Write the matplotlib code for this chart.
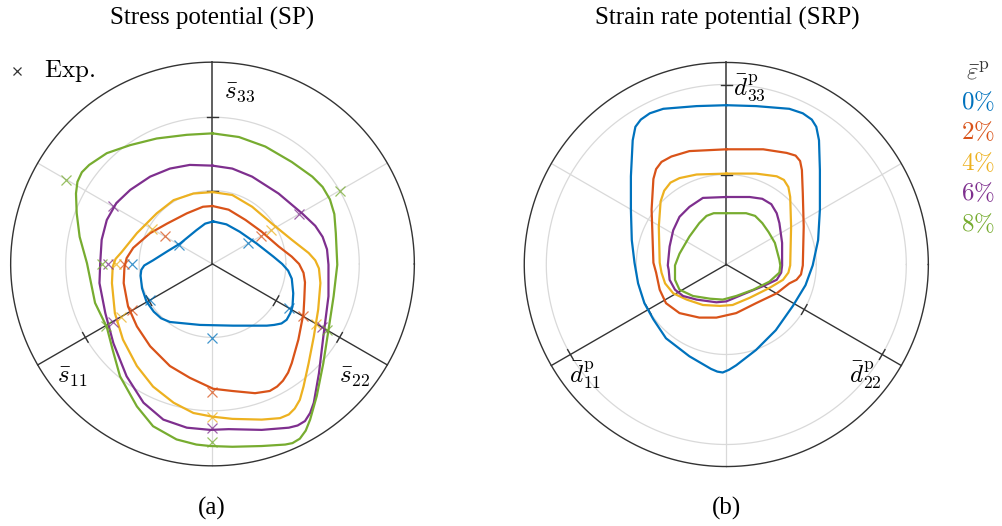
import numpy as np
import matplotlib.pyplot as plt

plt.rcParams['mathtext.fontset'] = 'cm'
plt.rcParams['font.family'] = ['Liberation Serif', 'DejaVu Serif']

levels = ['0%', '2%', '4%', '6%', '8%']
colors = ['#0072BD', '#D95319', '#EDB120', '#7E2F8E', '#77AC30']

# stress potential curves, (x, y) in the pi-plane, normalised units
sp_0pct = [(0.01, 0.58), (0.19, 0.54), (0.37, 0.44), (0.60, 0.28), (0.83, 0.10),
           (0.95, 0.00), (1.03, -0.09), (1.08, -0.20), (1.10, -0.40), (1.09, -0.58),
           (1.06, -0.67), (1.01, -0.76), (0.94, -0.81), (0.84, -0.83), (0.74, -0.84),
           (0.28, -0.84), (-0.17, -0.83), (-0.58, -0.79), (-0.70, -0.74), (-0.80, -0.65),
           (-0.90, -0.51), (-0.96, -0.33), (-0.98, -0.16), (-0.97, -0.08), (-0.93, -0.02),
           (-0.81, 0.05), (-0.62, 0.17), (-0.44, 0.28), (-0.22, 0.46), (-0.10, 0.55)]
sp_2pct = [(0.00, 0.79), (0.22, 0.74), (0.45, 0.60), (0.67, 0.44), (0.90, 0.24),
           (1.08, 0.10), (1.18, 0.00), (1.24, -0.12), (1.26, -0.25), (1.25, -0.49),
           (1.24, -0.67), (1.17, -1.03), (1.08, -1.35), (1.03, -1.48), (0.96, -1.59),
           (0.88, -1.67), (0.78, -1.73), (0.58, -1.76), (0.27, -1.73), (0.01, -1.70),
           (-0.31, -1.55), (-0.58, -1.39), (-0.85, -1.12), (-1.03, -0.85), (-1.15, -0.58),
           (-1.21, -0.26), (-1.20, -0.05), (-1.17, 0.08), (-1.08, 0.22), (-0.85, 0.42),
           (-0.62, 0.55), (-0.35, 0.69), (-0.13, 0.78)]
sp_4pct = [(0.00, 0.98), (0.27, 0.94), (0.54, 0.78), (0.81, 0.55), (1.08, 0.33),
           (1.31, 0.15), (1.40, 0.05), (1.45, -0.06), (1.47, -0.26), (1.44, -0.62),
           (1.38, -0.99), (1.31, -1.35), (1.24, -1.67), (1.19, -1.85), (1.12, -1.97),
           (1.04, -2.05), (0.92, -2.10), (0.67, -2.12), (0.27, -2.11), (0.00, -2.08),
           (-0.26, -2.03), (-0.53, -1.89), (-0.81, -1.67), (-1.03, -1.39), (-1.22, -1.03),
           (-1.33, -0.67), (-1.37, -0.26), (-1.36, -0.04), (-1.32, 0.07), (-1.24, 0.16),
           (-1.03, 0.42), (-0.76, 0.69), (-0.53, 0.87), (-0.26, 0.96)]
sp_6pct = [(0.00, 1.34), (0.27, 1.30), (0.54, 1.19), (0.90, 0.96), (1.22, 0.69),
           (1.40, 0.52), (1.50, 0.37), (1.56, 0.20), (1.58, -0.01), (1.58, -0.44),
           (1.51, -0.99), (1.45, -1.49), (1.38, -1.89), (1.33, -2.03), (1.26, -2.14),
           (1.16, -2.20), (1.04, -2.23), (0.67, -2.26), (0.22, -2.25), (-0.03, -2.26),
           (-0.35, -2.23), (-0.67, -2.12), (-0.94, -1.89), (-1.17, -1.53), (-1.35, -1.08),
           (-1.46, -0.67), (-1.54, -0.26), (-1.53, 0.01), (-1.51, 0.33), (-1.44, 0.60),
           (-1.31, 0.83), (-1.12, 1.01), (-0.85, 1.19), (-0.58, 1.30), (-0.31, 1.35)]
sp_8pct = [(0.00, 1.78), (0.36, 1.73), (0.72, 1.60), (1.08, 1.39), (1.36, 1.19),
           (1.50, 1.05), (1.60, 0.88), (1.66, 0.68), (1.68, 0.42), (1.70, -0.01),
           (1.65, -0.44), (1.58, -0.90), (1.51, -1.35), (1.42, -1.80), (1.33, -2.12),
           (1.27, -2.27), (1.19, -2.38), (1.09, -2.44), (0.99, -2.46), (0.67, -2.48),
           (0.27, -2.49), (-0.03, -2.48), (-0.22, -2.46), (-0.49, -2.39), (-0.81, -2.21),
           (-1.03, -1.94), (-1.26, -1.53), (-1.36, -1.17), (-1.44, -0.86), (-1.60, -0.53),
           (-1.71, 0.01), (-1.81, 0.37), (-1.85, 0.69), (-1.86, 0.96), (-1.84, 1.12),
           (-1.78, 1.25), (-1.68, 1.35), (-1.44, 1.51), (-1.12, 1.62), (-0.76, 1.71),
           (-0.35, 1.76)]

# experimental points: polar angle (deg) and radius per strain level
exp_angles = [30, 150, 180, 210, 270, 330]
exp_0pct = [0.56, 0.52, 1.09, 0.98, 1.01, 1.20]
exp_2pct = [0.77, 0.75, 1.21, 1.26, 1.75, 1.42]
exp_4pct = [0.92, 0.95, 1.32, 1.44, 2.08, 1.63]
exp_6pct = [1.36, 1.57, 1.42, 1.57, 2.24, 1.73]
exp_8pct = [2.00, 2.30, 1.50, 1.68, 2.42, 1.80]

# strain rate potential curves
srp_0pct = [(0.00, 1.77), (0.33, 1.76), (0.70, 1.73), (0.85, 1.68), (0.95, 1.61),
            (1.00, 1.53), (1.03, 1.38), (1.04, 1.05), (1.04, 0.61), (1.02, 0.27),
            (0.96, -0.01), (0.88, -0.23), (0.74, -0.46), (0.55, -0.73), (0.33, -0.95),
            (0.11, -1.12), (0.03, -1.17), (-0.04, -1.20), (-0.10, -1.19), (-0.17, -1.16),
            (-0.41, -1.02), (-0.67, -0.82), (-0.81, -0.61), (-0.91, -0.43), (-0.98, -0.21),
            (-1.02, 0.02), (-1.05, 0.27), (-1.06, 0.61), (-1.06, 0.98), (-1.04, 1.38),
            (-1.01, 1.53), (-0.95, 1.61), (-0.85, 1.68), (-0.70, 1.73), (-0.33, 1.76)]
srp_2pct = [(0.00, 1.28), (0.41, 1.28), (0.67, 1.24), (0.77, 1.21), (0.82, 1.15),
            (0.84, 1.05), (0.85, 0.79), (0.86, 0.42), (0.85, -0.01), (0.83, -0.11),
            (0.78, -0.17), (0.70, -0.21), (0.56, -0.32), (0.33, -0.43), (0.11, -0.54),
            (-0.11, -0.59), (-0.30, -0.59), (-0.52, -0.54), (-0.67, -0.43), (-0.74, -0.28),
            (-0.78, -0.09), (-0.81, 0.02), (-0.83, 0.61), (-0.81, 0.95), (-0.78, 1.06),
            (-0.72, 1.14), (-0.61, 1.20), (-0.41, 1.26)]
srp_4pct = [(0.00, 1.01), (0.33, 1.01), (0.56, 0.98), (0.64, 0.94), (0.69, 0.86),
            (0.71, 0.75), (0.72, 0.42), (0.71, -0.01), (0.69, -0.09), (0.63, -0.17),
            (0.48, -0.26), (0.26, -0.37), (0.07, -0.45), (-0.07, -0.46), (-0.26, -0.45),
            (-0.44, -0.39), (-0.59, -0.32), (-0.68, -0.21), (-0.72, -0.09), (-0.74, 0.02),
            (-0.75, 0.42), (-0.73, 0.70), (-0.69, 0.82), (-0.62, 0.91), (-0.52, 0.96),
            (-0.33, 1.00)]
srp_6pct = [(0.00, 0.75), (0.26, 0.75), (0.40, 0.73), (0.50, 0.67), (0.56, 0.57),
            (0.59, 0.46), (0.62, 0.24), (0.62, -0.01), (0.61, -0.09), (0.56, -0.17),
            (0.41, -0.24), (0.19, -0.33), (0.00, -0.41), (-0.11, -0.42), (-0.33, -0.39),
            (-0.48, -0.35), (-0.57, -0.28), (-0.63, -0.17), (-0.64, -0.06), (-0.65, -0.01),
            (-0.63, 0.20), (-0.59, 0.38), (-0.52, 0.53), (-0.41, 0.64), (-0.26, 0.74)]
srp_8pct = [(0.00, 0.57), (0.22, 0.57), (0.32, 0.54), (0.40, 0.46), (0.47, 0.36),
            (0.54, 0.24), (0.59, 0.05), (0.60, -0.01), (0.59, -0.09), (0.48, -0.19),
            (0.30, -0.28), (0.11, -0.35), (-0.04, -0.39), (-0.18, -0.38), (-0.37, -0.35),
            (-0.52, -0.28), (-0.57, -0.17), (-0.57, -0.06), (-0.57, -0.01), (-0.52, 0.12),
            (-0.41, 0.31), (-0.30, 0.46), (-0.22, 0.54), (-0.14, 0.57)]

sp_curves = [sp_0pct, sp_2pct, sp_4pct, sp_6pct, sp_8pct]
srp_curves = [srp_0pct, srp_2pct, srp_4pct, srp_6pct, srp_8pct]
exp_radii = [exp_0pct, exp_2pct, exp_4pct, exp_6pct, exp_8pct]

W, H = 1003, 526
fig = plt.figure(figsize=(W / 100, H / 100), dpi=100)


def place_axes(cx, cy, unit, lim):
    """Square axes centred on pixel (cx, cy) with `unit` pixels per data unit."""
    size = 2 * lim * unit
    ax = fig.add_axes([(cx - size / 2) / W, (H - cy - size / 2) / H, size / W, size / H])
    ax.set_xlim(-lim, lim)
    ax.set_ylim(-lim, lim)
    ax.axis('off')
    return ax


def draw_frame(ax, r_out, tick_half):
    t = np.linspace(0, 2 * np.pi, 400)
    for r in (1, 2):
        ax.plot(r * np.cos(t), r * np.sin(t), color='#d9d9d9', lw=0.9, zorder=1)
    for a in (30, 150, 270):
        ar = np.radians(a)
        ax.plot([0, r_out * np.cos(ar)], [0, r_out * np.sin(ar)],
                color='#d9d9d9', lw=0.9, zorder=1)
    for a in (90, 210, 330):
        ar = np.radians(a)
        lw = 1.4 if a == 90 else 1.0
        col = '#606060' if a == 90 else '#333333'
        ax.plot([0, r_out * np.cos(ar)], [0, r_out * np.sin(ar)], color=col, lw=lw, zorder=2)
        # small ticks across the axis
        px, py = -np.sin(ar), np.cos(ar)
        for r in (1, 2):
            x0, y0 = r * np.cos(ar), r * np.sin(ar)
            ax.plot([x0 - tick_half * px, x0 + tick_half * px],
                    [y0 - tick_half * py, y0 + tick_half * py],
                    color='#333333', lw=1.0, zorder=2)
    ax.plot(r_out * np.cos(t), r_out * np.sin(t), color='#333333', lw=1.0, zorder=2)


def draw_curve(ax, pts, color):
    xy = np.array(pts + [pts[0]])
    ax.plot(xy[:, 0], xy[:, 1], color=color, lw=1.6, zorder=3, solid_joinstyle='round')


# ---- (a) stress potential
ax1 = place_axes(212.5, 264, 73.4, 3.0)
draw_frame(ax1, 2.75, 0.075)
for pts, rad, c in zip(sp_curves, exp_radii, colors):
    draw_curve(ax1, pts, c)
    ang = np.radians(exp_angles)
    ax1.plot(np.array(rad) * np.cos(ang), np.array(rad) * np.sin(ang), 'x', color=c,
             ms=7, mew=0.9, alpha=0.75, zorder=4)
ax1.text(0.37, 2.34, r'$\bar{s}_{33}$', fontsize=18, ha='center', va='center')
ax1.text(-1.91, -1.54, r'$\bar{s}_{11}$', fontsize=18, ha='center', va='center')
ax1.text(1.94, -1.54, r'$\bar{s}_{22}$', fontsize=18, ha='center', va='center')
ax1.plot([-2.66], [2.63], 'x', color='#333333', ms=6, mew=0.9, clip_on=False)
ax1.text(-2.30, 2.63, r'$\mathrm{Exp.}$', fontsize=18, ha='left', va='center')

# ---- (b) strain rate potential
ax2 = place_axes(726.3, 264.5, 90.0, 2.5)
draw_frame(ax2, 2.245, 0.062)
for pts, c in zip(srp_curves, colors):
    draw_curve(ax2, pts, c)
ax2.text(0.26, 1.96, r'$\bar{d}^{\mathrm{p}}_{33}$', fontsize=18, ha='center', va='center')
ax2.text(-1.57, -1.23, r'$\bar{d}^{\mathrm{p}}_{11}$', fontsize=18, ha='center', va='center')
ax2.text(1.55, -1.23, r'$\bar{d}^{\mathrm{p}}_{22}$', fontsize=18, ha='center', va='center')

# titles and captions
fig.text(212 / W, 1 - 18 / H, 'Stress potential (SP)', fontsize=18, ha='center', va='center')
fig.text(727 / W, 1 - 18 / H, 'Strain rate potential (SRP)', fontsize=18, ha='center', va='center')
fig.text(212 / W, 1 - 508 / H, '(a)', fontsize=18, ha='center', va='center')
fig.text(727 / W, 1 - 508 / H, '(b)', fontsize=18, ha='center', va='center')

# strain level legend
fig.text(978 / W, 1 - 73 / H, r'$\bar{\varepsilon}^{\mathrm{p}}$', fontsize=18,
         ha='center', va='center', color='#333333')
for i, (lab, c) in enumerate(zip(levels, colors)):
    fig.text(978 / W, 1 - (102 + 30.5 * i) / H, '$' + lab.replace('%', r'\%') + '$',
             fontsize=18, ha='center', va='center', color=c)

fig.savefig('out.png', dpi=100)
